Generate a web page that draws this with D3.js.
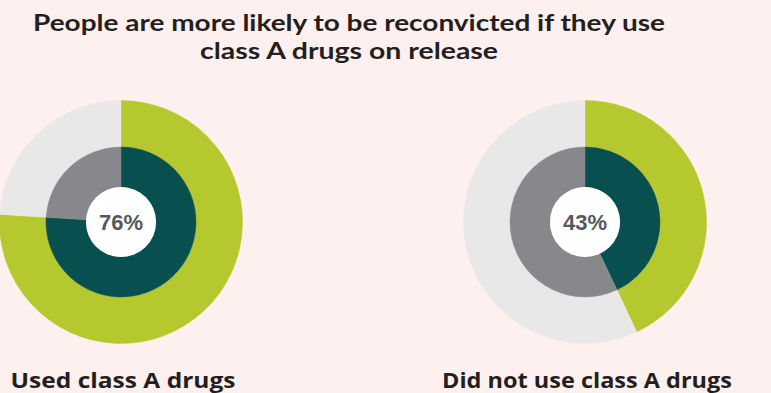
<!DOCTYPE html>
<html>
<head>
<meta charset="utf-8">
<script src="https://cdn.jsdelivr.net/npm/d3@7"></script>
<style>
	html, body { margin: 0; padding: 0; background: #fdf0ef; }
	svg { display: block; }
</style>
</head>
<body>
<script>
// chart data
var groups = ["Used class A drugs", "Did not use class A drugs"];
var reconvicted = [76, 43];
var titleLines = ["People are more likely to be reconvicted if they use", "class A drugs on release"];

var width = 771, height = 393;

var svg = d3.select("body").append("svg")
	.attr("width", width)
	.attr("height", height);

svg.append("rect")
	.attr("width", width)
	.attr("height", height)
	.attr("fill", "#fdf0ef");

// title
var titleWidths = [632, 298];
svg.append("g")
	.attr("class", "title")
	.selectAll("text")
	.data(titleLines)
	.enter()
	.append("text")
	.attr("x", 349)
	.attr("y", function(d, i) { return 30.5 + i * 28; })
	.attr("text-anchor", "middle")
	.attr("font-family", "Lato, sans-serif")
	.attr("font-weight", 700)
	.attr("font-size", "23px")
	.attr("fill", "#231f20")
	.attr("textLength", function(d, i) { return titleWidths[i]; })
	.attr("lengthAdjust", "spacingAndGlyphs")
	.text(function(d) { return d; });

var x = d3.scalePoint()
	.domain(groups)
	.range([121, 585]);

var pie = d3.pie().sort(null).value(function(d) { return d; });

var outerArc = d3.arc().innerRadius(75).outerRadius(121.5);
var innerArc = d3.arc().innerRadius(35).outerRadius(75);

var outerColours = ["#b5c82e", "#e9e8e9"];
var innerColours = ["#08504f", "#87888c"];

var donuts = svg.selectAll(".donut")
	.data(groups)
	.enter()
	.append("g")
	.attr("class", "donut")
	.attr("transform", function(d) { return "translate(" + x(d) + ",222)"; });

donuts.each(function(d, i) {
	var g = d3.select(this);
	var slices = pie([reconvicted[i], 100 - reconvicted[i]]);

	g.selectAll(".outer")
		.data(slices)
		.enter()
		.append("path")
		.attr("class", "outer")
		.attr("d", outerArc)
		.attr("fill", function(s, j) { return outerColours[j]; })
		.attr("stroke", function(s, j) { return outerColours[j]; })
		.attr("stroke-width", 0.5);

	g.selectAll(".inner")
		.data(slices)
		.enter()
		.append("path")
		.attr("class", "inner")
		.attr("d", innerArc)
		.attr("fill", function(s, j) { return innerColours[j]; })
		.attr("stroke", function(s, j) { return innerColours[j]; })
		.attr("stroke-width", 0.5);

	g.append("circle")
		.attr("r", 35)
		.attr("fill", "#ffffff");

	g.append("text")
		.attr("y", 8)
		.attr("text-anchor", "middle")
		.attr("font-family", "'Liberation Sans', Arial, sans-serif")
		.attr("font-weight", 700)
		.attr("font-size", "22px")
		.attr("fill", "#55585c")
		.text(reconvicted[i] + "%");
});

// labels under each donut
var labelWidths = [225, 290];
svg.append("g")
	.attr("class", "labels")
	.selectAll("text")
	.data(groups)
	.enter()
	.append("text")
	.attr("x", function(d) { return x(d) + 2; })
	.attr("y", 388)
	.attr("text-anchor", "middle")
	.attr("font-family", "'Open Sans', sans-serif")
	.attr("font-weight", 700)
	.attr("font-size", "22px")
	.attr("fill", "#231f20")
	.attr("textLength", function(d, i) { return labelWidths[i]; })
	.attr("lengthAdjust", "spacingAndGlyphs")
	.text(function(d) { return d; });
</script>
</body>
</html>
